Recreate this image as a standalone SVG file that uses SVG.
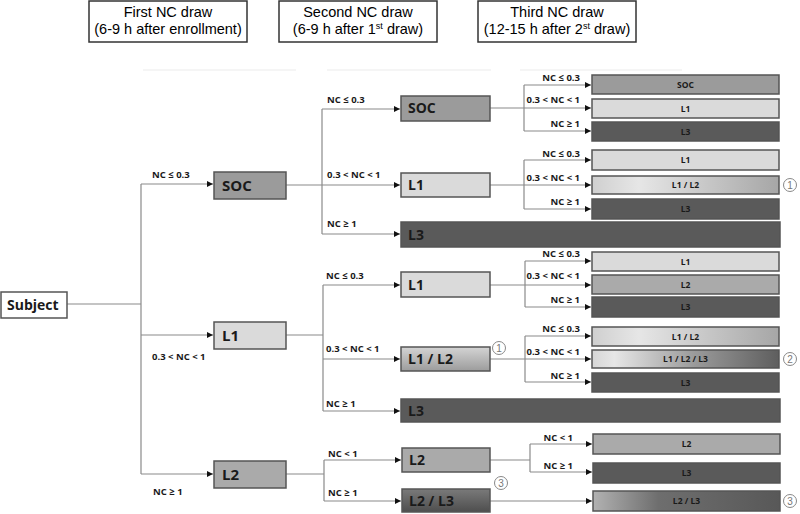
<svg xmlns="http://www.w3.org/2000/svg" width="800" height="514" viewBox="0 0 800 514">
<defs>
<marker id="arr" markerUnits="userSpaceOnUse" markerWidth="6" markerHeight="6" refX="6" refY="3" orient="auto">
<path d="M0,0 L6,3 L0,6 z" fill="#111"/>
</marker>
<linearGradient id="g12v" x1="0" y1="0" x2="0" y2="1">
<stop offset="0" stop-color="#d4d4d4"/><stop offset="1" stop-color="#9c9c9c"/>
</linearGradient>
<linearGradient id="g23v" x1="0" y1="0" x2="0" y2="1">
<stop offset="0" stop-color="#7a7a7a"/><stop offset="1" stop-color="#4e4e4e"/>
</linearGradient>
<linearGradient id="g12h" x1="0" y1="0" x2="1" y2="0">
<stop offset="0" stop-color="#cfcfcf"/><stop offset="0.25" stop-color="#e6e6e6"/><stop offset="1" stop-color="#a6a6a6"/>
</linearGradient>
<linearGradient id="g123h" x1="0" y1="0" x2="1" y2="0">
<stop offset="0" stop-color="#d6d6d6"/><stop offset="0.12" stop-color="#e6e6e6"/><stop offset="0.55" stop-color="#9a9a9a"/><stop offset="1" stop-color="#5e5e5e"/>
</linearGradient>
<linearGradient id="g23h" x1="0" y1="0" x2="1" y2="0">
<stop offset="0" stop-color="#b2b2b2"/><stop offset="0.35" stop-color="#6e6e6e"/><stop offset="1" stop-color="#585858"/>
</linearGradient>
</defs>
<style>
.hdr{fill:#fff;stroke:#333;stroke-width:1.5}
.ht{font-family:"Liberation Sans",Arial,sans-serif;font-size:14.5px;fill:#000;text-anchor:middle}
.box{stroke:#555;stroke-width:1.5}
.soc{fill:#9b9b9b}.l1{fill:#dadada}.l2{fill:#aaaaaa}.l3{fill:#5a5a5a}
.bl{font-family:"Open Sans",sans-serif;font-weight:bold;fill:#1a1a1a}
.b1{font-size:15px}.b2{font-size:14px}
.b3{font-size:8.5px;text-anchor:middle}
.lb{font-family:"Open Sans",sans-serif;font-weight:bold;font-size:9.5px;fill:#1a1a1a}
.le{text-anchor:end}
.cn{fill:none;stroke:#8a8a8a;stroke-width:1.2}
.ar{marker-end:url(#arr)}
.faint{stroke:#ebebeb;stroke-width:1}
.circ{fill:#fff;stroke:#888;stroke-width:1}
.ct{font-family:"Liberation Sans",Arial,sans-serif;font-size:10px;fill:#777;text-anchor:middle}
</style>
<rect width="800" height="514" fill="#fff"/>

<g id="headers">
<g id="hdr1"><rect class="hdr" x="89" y="1" width="158" height="41"/>
<text class="ht" x="168" y="17">First NC draw</text><text class="ht" x="168" y="34">(6-9 h after enrollment)</text></g>
<g id="hdr2"><rect class="hdr" x="279" y="1" width="158" height="41"/>
<text class="ht" x="358" y="17">Second NC draw</text><text class="ht" x="358" y="34">(6-9 h after 1<tspan font-size="9" dy="-5">st</tspan><tspan dy="5"> draw)</tspan></text></g>
<g id="hdr3"><rect class="hdr" x="478" y="1" width="158" height="41"/>
<text class="ht" x="557" y="17">Third NC draw</text><text class="ht" x="557" y="34">(12-15 h after 2<tspan font-size="9" dy="-5">st</tspan><tspan dy="5"> draw)</tspan></text></g>
<line class="faint" x1="143" y1="70" x2="296" y2="70"/>
<line class="faint" x1="327" y1="70" x2="491" y2="70"/>
<line class="faint" x1="520" y1="70" x2="682" y2="70"/>
</g>

<g id="connectors">
<path class="cn" d="M67,304 H141 M141,184 V474"/>
<path class="cn ar" d="M141,184 H213"/>
<path class="cn ar" d="M141,335 H213"/>
<path class="cn ar" d="M141,474 H213"/>

<path class="cn" d="M322,109 V234"/>
<path class="cn ar" d="M286,185 H400"/>
<path class="cn ar" d="M322,109 H400"/>
<path class="cn ar" d="M322,234 H400"/>

<path class="cn" d="M286,335 H323 M323,285 V411"/>
<path class="cn ar" d="M323,285 H400"/>
<path class="cn ar" d="M323,359 H400"/>
<path class="cn ar" d="M323,411 H400"/>

<path class="cn" d="M286,474 H324 M324,460 V501"/>
<path class="cn ar" d="M324,460 H401"/>
<path class="cn ar" d="M324,501 H401"/>

<path class="cn" d="M524,85 V131"/>
<path class="cn ar" d="M490,108 H591"/>
<path class="cn ar" d="M524,85 H591"/>
<path class="cn ar" d="M524,131 H591"/>

<path class="cn" d="M524,160 V209"/>
<path class="cn ar" d="M490,185 H591"/>
<path class="cn ar" d="M524,160 H591"/>
<path class="cn ar" d="M524,209 H591"/>

<path class="cn" d="M525,261 V307"/>
<path class="cn ar" d="M490,285 H591"/>
<path class="cn ar" d="M525,261 H591"/>
<path class="cn ar" d="M525,307 H591"/>

<path class="cn" d="M525,336 V382"/>
<path class="cn ar" d="M490,359 H591"/>
<path class="cn ar" d="M525,336 H591"/>
<path class="cn ar" d="M525,382 H591"/>

<path class="cn" d="M490,460 H530 M530,444 V472"/>
<path class="cn ar" d="M530,444 H592"/>
<path class="cn ar" d="M530,472 H592"/>
<path class="cn ar" d="M490,501 H592"/>
</g>

<g id="labels">
<text class="lb" x="152" y="178">NC ≤ 0.3</text>
<text class="lb" x="152" y="360">0.3 &lt; NC &lt; 1</text>
<text class="lb" x="153" y="495">NC ≥ 1</text>

<text class="lb" x="327" y="103">NC ≤ 0.3</text>
<text class="lb" x="327" y="178">0.3 &lt; NC &lt; 1</text>
<text class="lb" x="327" y="227">NC ≥ 1</text>
<text class="lb" x="326" y="279">NC ≤ 0.3</text>
<text class="lb" x="326" y="352">0.3 &lt; NC &lt; 1</text>
<text class="lb" x="326" y="407">NC ≥ 1</text>
<text class="lb" x="328" y="457">NC &lt; 1</text>
<text class="lb" x="328" y="496">NC ≥ 1</text>

<text class="lb le" x="580" y="81">NC ≤ 0.3</text>
<text class="lb le" x="580" y="103">0.3 &lt; NC &lt; 1</text>
<text class="lb le" x="580" y="127">NC ≥ 1</text>
<text class="lb le" x="580" y="157">NC ≤ 0.3</text>
<text class="lb le" x="580" y="181">0.3 &lt; NC &lt; 1</text>
<text class="lb le" x="580" y="205">NC ≥ 1</text>
<text class="lb le" x="580" y="257">NC ≤ 0.3</text>
<text class="lb le" x="580" y="279">0.3 &lt; NC &lt; 1</text>
<text class="lb le" x="580" y="303">NC ≥ 1</text>
<text class="lb le" x="580" y="332">NC ≤ 0.3</text>
<text class="lb le" x="580" y="355">0.3 &lt; NC &lt; 1</text>
<text class="lb le" x="580" y="379">NC ≥ 1</text>
<text class="lb le" x="573" y="441">NC &lt; 1</text>
<text class="lb le" x="573" y="469">NC ≥ 1</text>
</g>

<g id="subject"><rect x="1" y="292" width="66" height="26" fill="#fff" stroke="#555" stroke-width="1.5"/>
<text class="bl b2" x="7" y="310">Subject</text></g>

<g id="n1-soc"><rect class="box soc" x="214" y="172" width="72" height="27"/><text class="bl b1" x="222" y="191">SOC</text></g>
<g id="n1-l1"><rect class="box l1" x="214" y="322" width="72" height="27"/><text class="bl b1" x="222" y="341">L1</text></g>
<g id="n1-l2"><rect class="box l2" x="214" y="461" width="72" height="27"/><text class="bl b1" x="222" y="480">L2</text></g>

<g id="n2-soc"><rect class="box soc" x="401" y="96" width="89" height="25"/><text class="bl b2" x="408" y="113">SOC</text></g>
<g id="n2-l1a"><rect class="box l1" x="401" y="173" width="89" height="24"/><text class="bl b2" x="408" y="190">L1</text></g>
<g id="n2-l3a"><rect class="box l3" x="401" y="222" width="379" height="25"/><text class="bl b2" x="408" y="240">L3</text></g>
<g id="n2-l1b"><rect class="box l1" x="401" y="272" width="89" height="25"/><text class="bl b2" x="408" y="290">L1</text></g>
<g id="n2-l12"><rect class="box" fill="url(#g12v)" x="401" y="347" width="89" height="24"/><text class="bl b2" x="408" y="364">L1 / L2</text></g>
<g id="n2-l3b"><rect class="box l3" x="401" y="399" width="379" height="23"/><text class="bl b2" x="408" y="416">L3</text></g>
<g id="n2-l2"><rect class="box l2" x="402" y="448" width="88" height="24"/><text class="bl b2" x="409" y="465">L2</text></g>
<g id="n2-l23"><rect class="box" fill="url(#g23v)" x="402" y="489" width="88" height="23"/><text class="bl b2" x="409" y="506">L2 / L3</text></g>

<g id="n3-a1"><rect class="box soc" x="592" y="75" width="187" height="19"/><text class="bl b3" x="685.5" y="88">SOC</text></g>
<g id="n3-a2"><rect class="box l1" x="592" y="99" width="187" height="19"/><text class="bl b3" x="685.5" y="112">L1</text></g>
<g id="n3-a3"><rect class="box l3" x="592" y="122" width="187" height="19"/><text class="bl b3" x="685.5" y="135">L3</text></g>
<g id="n3-b1"><rect class="box l1" x="592" y="150" width="187" height="20"/><text class="bl b3" x="685.5" y="163">L1</text></g>
<g id="n3-b2"><rect class="box" fill="url(#g12h)" x="592" y="176" width="187" height="18"/><text class="bl b3" x="685.5" y="188">L1 / L2</text></g>
<g id="n3-b3"><rect class="box l3" x="592" y="199" width="187" height="20"/><text class="bl b3" x="685.5" y="212">L3</text></g>
<g id="n3-c1"><rect class="box l1" x="592" y="252" width="187" height="19"/><text class="bl b3" x="685.5" y="265">L1</text></g>
<g id="n3-c2"><rect class="box l2" x="592" y="275" width="187" height="19"/><text class="bl b3" x="685.5" y="288">L2</text></g>
<g id="n3-c3"><rect class="box l3" x="592" y="297" width="187" height="20"/><text class="bl b3" x="685.5" y="310">L3</text></g>
<g id="n3-d1"><rect class="box" fill="url(#g12h)" x="592" y="327" width="187" height="19"/><text class="bl b3" x="685.5" y="340">L1 / L2</text></g>
<g id="n3-d2"><rect class="box" fill="url(#g123h)" x="592" y="350" width="187" height="18"/><text class="bl b3" x="685.5" y="362">L1 / L2 / L3</text></g>
<g id="n3-d3"><rect class="box l3" x="592" y="373" width="187" height="19"/><text class="bl b3" x="685.5" y="386">L3</text></g>
<g id="n3-e1"><rect class="box l2" x="593" y="434" width="187" height="20"/><text class="bl b3" x="686.5" y="447">L2</text></g>
<g id="n3-e2"><rect class="box l3" x="593" y="463" width="187" height="20"/><text class="bl b3" x="686.5" y="476">L3</text></g>
<g id="n3-e3"><rect class="box" fill="url(#g23h)" x="593" y="491" width="187" height="20"/><text class="bl b3" x="686.5" y="504">L2 / L3</text></g>

<g id="notes">
<circle class="circ" cx="499" cy="348" r="6.5"/><text class="ct" x="499" y="351.5">1</text>
<circle class="circ" cx="501" cy="483" r="6.5"/><text class="ct" x="501" y="486.5">3</text>
<circle class="circ" cx="790" cy="185" r="6.5"/><text class="ct" x="790" y="188.5">1</text>
<circle class="circ" cx="790" cy="359" r="6.5"/><text class="ct" x="790" y="362.5">2</text>
<circle class="circ" cx="790" cy="501" r="6.5"/><text class="ct" x="790" y="504.5">3</text>
</g>
</svg>
